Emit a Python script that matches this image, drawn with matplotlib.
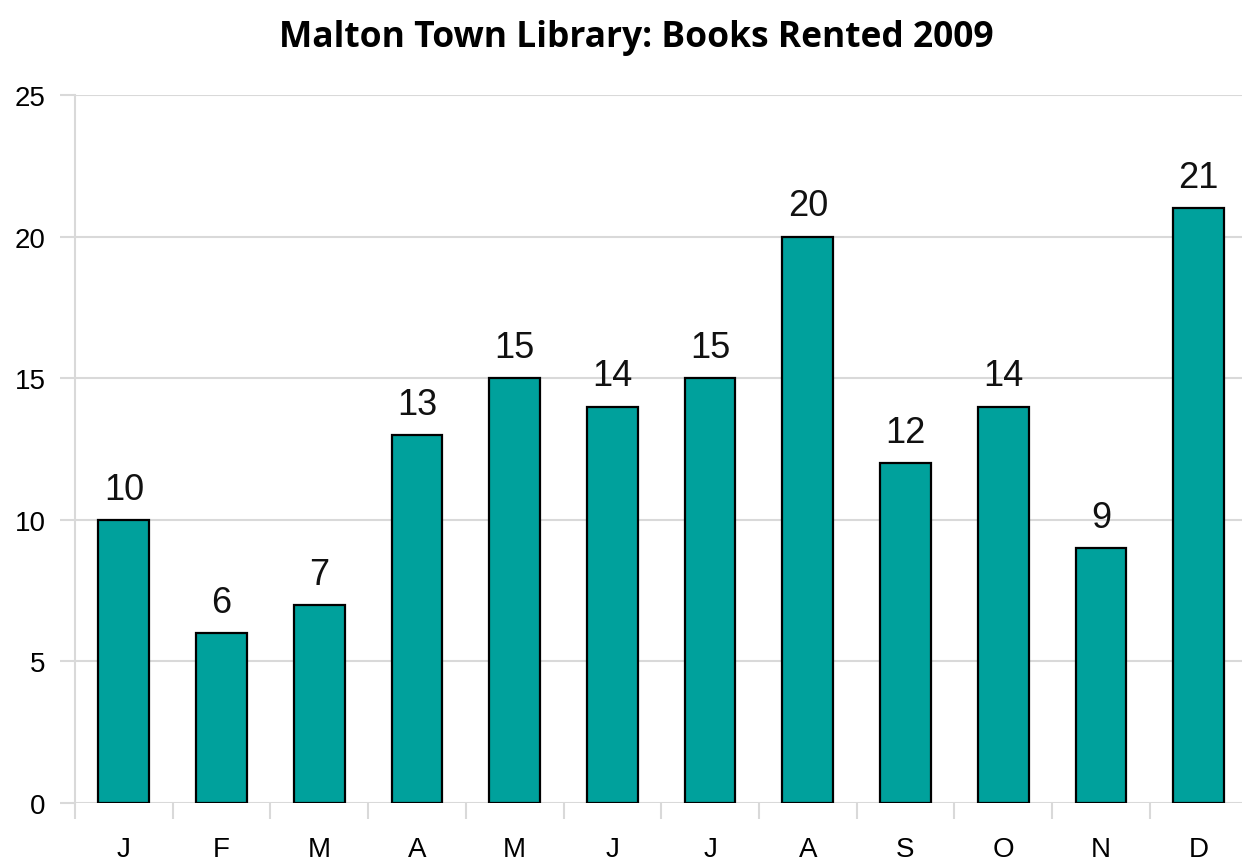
import matplotlib.pyplot as plt
import numpy as np

months = ["J", "F", "M", "A", "M", "J", "J", "A", "S", "O", "N", "D"]
books = [10, 6, 7, 13, 15, 14, 15, 20, 12, 14, 9, 21]
yticks = [0, 5, 10, 15, 20, 25]

grid_col = "#d9d9d9"
bar_col = "#00a19c"
narrow = ["Liberation Sans Narrow", "Liberation Sans"]

fig = plt.figure(figsize=(12.42, 8.62), dpi=100)
ax = fig.add_axes([0.0604, 0.0673, 0.944, 0.8213])

x = np.arange(len(months))
ax.bar(x, books, width=0.52, color=bar_col, edgecolor="black", linewidth=1.6, zorder=3)

for xi, v in zip(x, books):
    ax.text(xi, v + 0.75, str(v), ha="center", va="baseline", fontsize=26,
            family=narrow, color="#111111")

ax.set_xlim(-0.5, len(months) - 0.5)
ax.set_ylim(0, 25)
ax.set_yticks(yticks)
ax.set_yticklabels([str(t) for t in yticks], fontsize=20, family="Liberation Sans")
ax.set_xticks(x)
ax.set_xticklabels(months, fontsize=20, family="Liberation Sans")
ax.tick_params(axis="x", length=0, pad=24)
ax.set_xticks(np.arange(len(months) + 1) - 0.5, minor=True)
ax.tick_params(axis="x", which="minor", length=11.5, color=grid_col, width=1.5)
ax.tick_params(axis="y", length=11, color=grid_col, width=1.5, pad=10)

ax.yaxis.grid(True, color=grid_col, linewidth=1.5, zorder=0)
for s in ["top", "right", "bottom"]:
    ax.spines[s].set_visible(False)
ax.spines["left"].set_color(grid_col)
ax.spines["left"].set_linewidth(1.5)

fig.text(0.512, 1 - 47 / 862, "Malton Town Library: Books Rented 2009",
         ha="center", va="baseline", fontsize=25.5, fontweight="bold", family="Open Sans")

fig.savefig("out.png", dpi=100)
